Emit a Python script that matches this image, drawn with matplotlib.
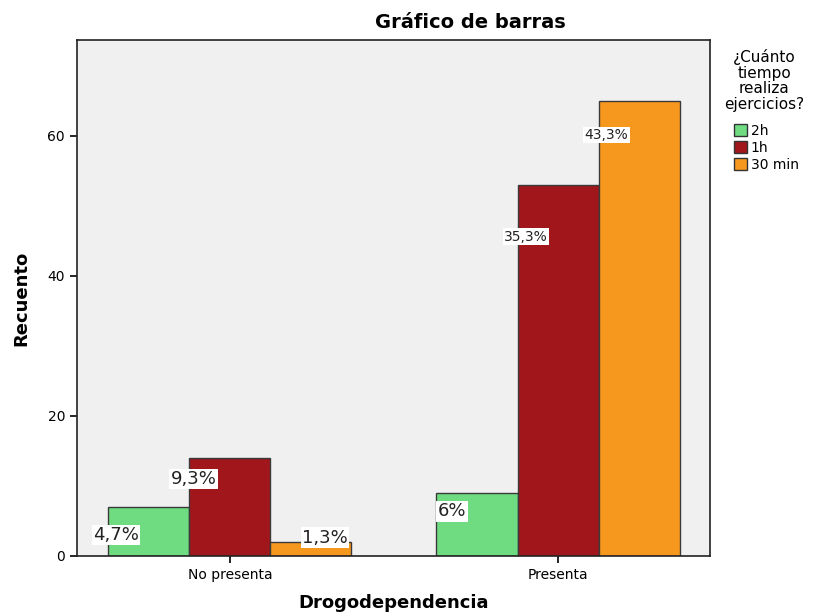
import numpy as np
import matplotlib
matplotlib.use("Agg")
from matplotlib import pyplot as plt
from matplotlib.patches import Patch

# data
categories = ["No presenta", "Presenta"]
series = ["2h", "1h", "30 min"]
counts_2h = [7, 9]
counts_1h = [14, 53]
counts_30 = [2, 65]
pct_labels = [["4,7%", "6%"], ["9,3%", "35,3%"], ["1,3%", "43,3%"]]

colors = ["#6fdc82", "#a1161b", "#f7981e"]
# label offsets relative to bar centre/top (data units), and font sizes
label_off = [[(-0.10, -4.0), (-0.076, -2.6)],
             [(-0.11, -3.0), (-0.098, -7.4)],
             [(0.043, 0.6), (-0.10, -4.9)]]
label_size = [[13, 13], [13, 10], [13, 10]]

fig = plt.figure()
fig.set_dpi(100)
fig.set_size_inches(8.18, 6.13)

ax = fig.add_axes([0.094, 0.093, 0.774, 0.842])
ax.set_facecolor("#f0f0f0")

bw = 0.247
x = np.arange(len(categories))
all_counts = [counts_2h, counts_1h, counts_30]
for i, vals in enumerate(all_counts):
    pos = x + (i - 1) * bw
    ax.bar(pos, vals, width=bw, color=colors[i], edgecolor="#3a3a3a",
           linewidth=1.0, zorder=2)
    for j, v in enumerate(vals):
        dx, dy = label_off[i][j]
        ax.text(pos[j] + dx, v + dy, pct_labels[i][j], ha="center",
                va="center", fontsize=label_size[i][j], color="#222222",
                bbox=dict(facecolor="white", edgecolor="none", pad=1.0),
                zorder=3)

ax.set_xlim(-0.466, 1.463)
ax.set_ylim(0, 73.7)
ax.set_yticks([0, 20, 40, 60])
ax.set_xticks(x)
ax.set_xticklabels(categories, fontsize=10)
ax.tick_params(axis="y", labelsize=10, length=5, width=1.2, direction="out")
ax.tick_params(axis="x", length=5, width=1.2, direction="out")
for s in ax.spines.values():
    s.set_color("#222222")
    s.set_linewidth(1.2)

ax.set_xlabel("Drogodependencia", fontsize=13, fontweight="bold", labelpad=9)
ax.set_ylabel("Recuento", fontsize=13, fontweight="bold", labelpad=12)
fig.text(470 / 818, 1 - 22 / 613, "Gráfico de barras", ha="center",
         va="center", fontsize=14, fontweight="bold")

# legend title drawn separately so it can be centred
fig.text(764 / 818, 1 - 49 / 613, "¿Cuánto\ntiempo\nrealiza\nejercicios?",
         ha="center", va="top", fontsize=11, linespacing=1.05)
handles = [Patch(facecolor=c, edgecolor="#333333") for c in colors]
fig.legend(handles, series, loc="upper left",
           bbox_to_anchor=(734 / 818, 1 - 124 / 613), frameon=False,
           fontsize=10, handlelength=0.9, handleheight=0.9,
           handletextpad=0.3, labelspacing=0.2, borderaxespad=0,
           borderpad=0)

fig.savefig("out.png", dpi=100)
